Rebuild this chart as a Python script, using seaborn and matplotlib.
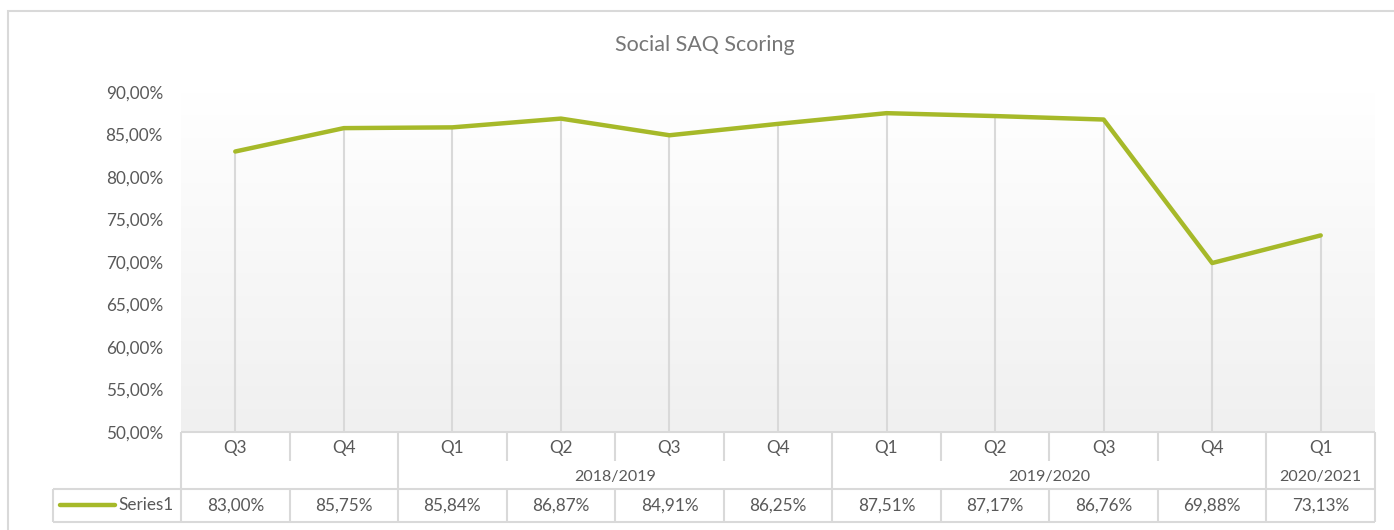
import numpy as np
import pandas as pd
import matplotlib
matplotlib.use("Agg")
import matplotlib.pyplot as plt
import seaborn as sns
from matplotlib.ticker import FuncFormatter
from matplotlib.patches import Rectangle

# ---- data ----
quarters = ["Q3", "Q4", "Q1", "Q2", "Q3", "Q4", "Q1", "Q2", "Q3", "Q4", "Q1"]
values = [0.8300, 0.8575, 0.8584, 0.8687, 0.8491, 0.8625, 0.8751, 0.8717, 0.8676, 0.6988, 0.7313]
year_labels = ["", "2018/2019", "2019/2020", "2020/2021"]
year_spans = [2, 4, 4, 1]
series_name = "Series1"
title = "Social SAQ Scoring"
y_ticks = [0.50, 0.55, 0.60, 0.65, 0.70, 0.75, 0.80, 0.85, 0.90]

sns.set_theme(style="white")
plt.rcParams["font.family"] = ["Lato", "DejaVu Sans"]

W, H = 1394, 530
TXT = "#595959"
GRID = "#D9D9D9"
LINE = "#A6B929"
FS = 12.3

fig = plt.figure(figsize=(W / 100, H / 100), dpi=100)

def px(x0, y0, x1, y1):
    return [x0 / W, 1 - y1 / H, (x1 - x0) / W, (y1 - y0) / H]

# outer border
fig.patches.append(Rectangle((7.5 / W, -0.01), 1.1, 1 - 10.5 / H + 0.01,
                             transform=fig.transFigure, fill=False,
                             edgecolor=GRID, linewidth=1.5))

ax = fig.add_axes(px(181, 92, 1375, 432))
n = len(values)
df = pd.DataFrame({"pos": np.arange(n), "value": values})

# gradient background
grad = np.linspace(1.0, 0.0, 256).reshape(-1, 1)
top = np.array([1.0, 1.0, 1.0])
bot = np.array([0xF0, 0xF0, 0xF0]) / 255
img = (grad[..., None] * top + (1 - grad[..., None]) * bot)
ax.imshow(img, extent=[0, 1, 0, 1], transform=ax.transAxes, aspect="auto", zorder=0)

ax.vlines(df["pos"], 0.5, df["value"], color=GRID, linewidth=1.5, zorder=1)
sns.lineplot(data=df, x="pos", y="value", color=LINE, linewidth=3.2, ax=ax, zorder=3,
             solid_capstyle="round")
ax.set_xlim(-0.5, n - 0.5)
ax.set_ylim(0.5, 0.9)
ax.set_yticks(y_ticks)
ax.yaxis.set_major_formatter(FuncFormatter(lambda v, p: f"{v*100:.2f}%".replace(".", ",")))
ax.set_xticks([])
ax.set_xlabel("")
ax.set_ylabel("")
ax.tick_params(axis="y", length=0, pad=13, labelsize=FS, labelcolor=TXT)
for s in ax.spines.values():
    s.set_visible(False)
ax.patch.set_alpha(0)

fig.text(705 / W, 1 - 45 / H, title, ha="center", va="center", fontsize=15.5, color="#767676")

# ---- data table ----
catw = (1375 - 181) / n
tax = fig.add_axes(px(53, 432, 1375, 522))
tax.set_xlim(-0.5 - (181 - 53) / catw, n - 0.5)
tax.set_ylim(90, 0)
tax.axis("off")
lk = dict(color=GRID, linewidth=1.5, clip_on=False, solid_capstyle="butt")

# top line & group boundaries
tax.plot([-0.5, n - 0.5], [0, 0], **lk)
bounds = np.concatenate([[0], np.cumsum(year_spans)]) - 0.5
for b in bounds:
    tax.plot([b, b], [0, 90], **lk)
# short separators in quarter row, full ones in value row
for i in range(1, n):
    b = i - 0.5
    if b not in bounds:
        tax.plot([b, b], [0, 29], **lk)
        tax.plot([b, b], [57, 90], **lk)
# values row box
xl = tax.get_xlim()[0]
tax.plot([xl, n - 0.5], [57, 57], **lk)
tax.plot([xl, n - 0.5], [90, 90], **lk)
tax.plot([xl, xl], [57, 90], **lk)

for i, (q, v) in enumerate(zip(quarters, values)):
    tax.text(i, 16, q, ha="center", va="center", fontsize=FS, color=TXT)
    tax.text(i, 73.5, f"{v*100:.2f}%".replace(".", ","), ha="center", va="center",
             fontsize=FS, color=TXT)
for lab, b0, sp in zip(year_labels, bounds[:-1], year_spans):
    tax.text(b0 + sp / 2, 45, lab, ha="center", va="center", fontsize=11.5, color=TXT)

# legend key
x60 = xl + (60 - 53) / catw
x115 = xl + (115 - 53) / catw
tax.plot([x60, x115], [73, 73], color=LINE, linewidth=3.2, clip_on=False, solid_capstyle="round")
tax.text(xl + (174 - 53) / catw, 73.5, series_name, ha="right", va="center", fontsize=FS, color=TXT)

fig.savefig("out.png", dpi=100)
